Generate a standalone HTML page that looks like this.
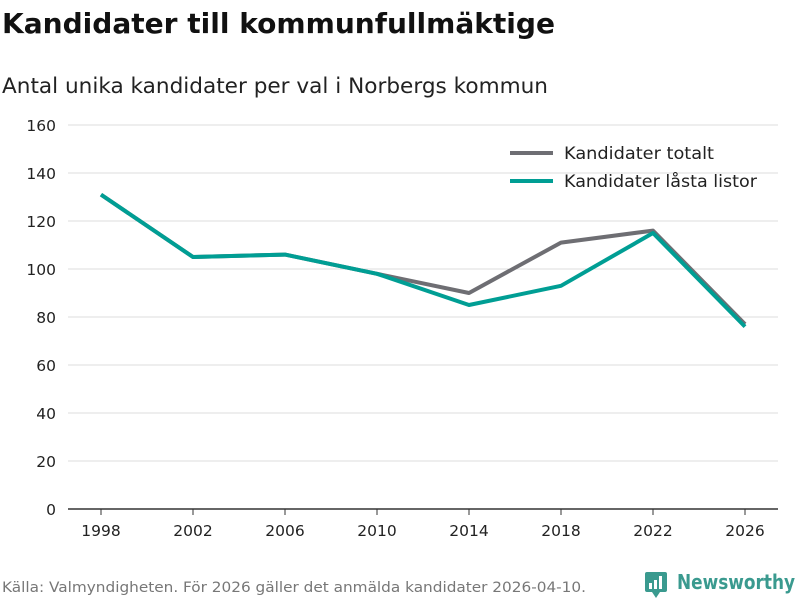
<!DOCTYPE html>
<html><head><meta charset="utf-8"><style>
body{margin:0;width:800px;height:600px;background:#fff;font-family:"DejaVu Sans",sans-serif;overflow:hidden}
svg text{font-family:"DejaVu Sans",sans-serif}
</style></head><body>
<svg id="c" width="800" height="600">
<text x="2" y="33" font-size="28" font-weight="bold" fill="#111" textLength="553" lengthAdjust="spacingAndGlyphs">Kandidater till kommunfullmäktige</text>
<text x="2" y="93" font-size="21" fill="#222" textLength="546" lengthAdjust="spacingAndGlyphs">Antal unika kandidater per val i Norbergs kommun</text>
<g id="grid"></g><g id="lines"></g>
<g>
<g><line x1="510" y1="153" x2="553" y2="153" stroke="#6e6e73" stroke-width="4"/><text x="564" y="159" font-size="16.5" fill="#222" textLength="150" lengthAdjust="spacingAndGlyphs">Kandidater totalt</text></g>
<g><line x1="510" y1="181" x2="553" y2="181" stroke="#009e94" stroke-width="4"/><text x="564" y="187" font-size="16.5" fill="#222" textLength="193" lengthAdjust="spacingAndGlyphs">Kandidater låsta listor</text></g>
</g>
<text x="2" y="592" font-size="14.5" fill="#777" textLength="584" lengthAdjust="spacingAndGlyphs">Källa: Valmyndigheten. För 2026 gäller det anmälda kandidater 2026-04-10.</text>
<g>
<rect x="645" y="572" width="22" height="20" rx="2" fill="#3a9a8f"/><path d="M652 592 l4 6 l4 -6z" fill="#3a9a8f"/>
<rect x="649" y="583" width="3" height="6" fill="#fff"/><rect x="654" y="580" width="3" height="9" fill="#fff"/><rect x="659" y="576" width="3" height="13" fill="#fff"/>
<text x="677" y="589" font-size="20" font-weight="bold" fill="#3a9a8f" textLength="118" lengthAdjust="spacingAndGlyphs">Newsworthy</text>
</g>
</svg>
<script>
const years=[1998,2002,2006,2010,2014,2018,2022,2026];
const totalt=[131,105,106,98,90,111,116,77];
const lasta=[131,105,106,98,85,93,115,76];
const yTicks=[0,20,40,60,80,100,120,140,160];
const NS="http://www.w3.org/2000/svg";
const x=v=>101+(v-1998)*23;
const y=v=>509-v*2.4;
const grid=document.getElementById('grid');
yTicks.forEach(t=>{
 const l=document.createElementNS(NS,'line');
 l.setAttribute('x1',68);l.setAttribute('x2',778);l.setAttribute('y1',y(t));l.setAttribute('y2',y(t));
 l.setAttribute('stroke',t===0?'#333':'#ddd');l.setAttribute('stroke-width',t===0?1.5:1);
 
 
 grid.appendChild(l);
 const tx=document.createElementNS(NS,'text');
 tx.setAttribute('x',56);tx.setAttribute('y',y(t)+6);tx.setAttribute('text-anchor','end');tx.setAttribute('font-size','15.5');tx.setAttribute('fill','#222');
 tx.textContent=t;
 
 
 grid.appendChild(tx);
});
years.forEach(yr=>{
 const tk=document.createElementNS(NS,'line');
 tk.setAttribute('x1',x(yr));tk.setAttribute('x2',x(yr));tk.setAttribute('y1',509);tk.setAttribute('y2',515);tk.setAttribute('stroke','#333');
 
 
 grid.appendChild(tk);
 const tx=document.createElementNS(NS,'text');
 tx.setAttribute('x',x(yr));tx.setAttribute('y',536);tx.setAttribute('text-anchor','middle');tx.setAttribute('font-size','15.5');tx.setAttribute('fill','#222');
 tx.textContent=yr;
 
 
 grid.appendChild(tx);
});
const lines=document.getElementById('lines');
[[totalt,'#6e6e73','line-kandidater-totalt'],[lasta,'#009e94','line-kandidater-lasta-listor']].forEach(([d,c,n])=>{
 const p=document.createElementNS(NS,'polyline');
 p.setAttribute('points',d.map((v,i)=>x(years[i])+','+y(v)).join(' '));
 p.setAttribute('fill','none');p.setAttribute('stroke',c);p.setAttribute('stroke-width',4);p.setAttribute('stroke-linejoin','round');
 
 
 lines.appendChild(p);
});
</script>
</body></html>
